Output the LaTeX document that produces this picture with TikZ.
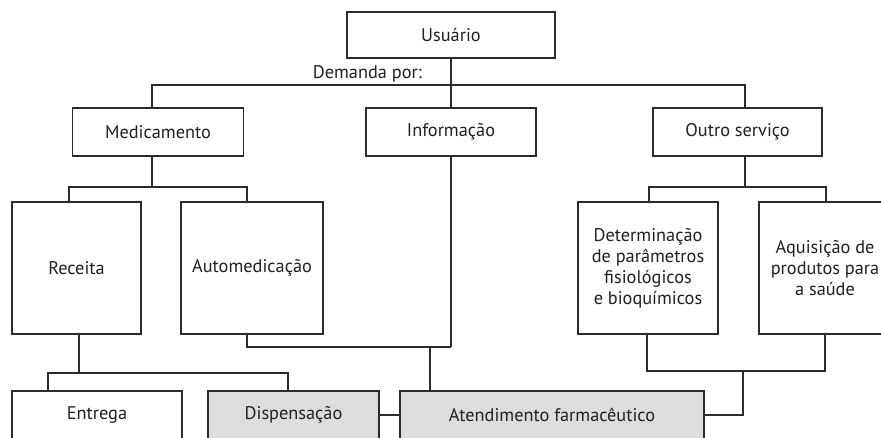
\documentclass[tikz,border=0pt]{standalone}
\usepackage{fontspec}
\setmainfont{PT Sans}
\usetikzlibrary{calc}
\definecolor{ln}{HTML}{2B2B2B}
\definecolor{tx}{HTML}{231F20}
\definecolor{gf}{HTML}{DCDDDE}
\begin{document}
\begin{tikzpicture}[x=1pt,y=-1pt,
  lbl/.style={font=\fontsize{18.3}{21}\selectfont, text=tx},
  box/.style={draw=ln, line width=1.3pt, inner sep=0pt, align=center, lbl},
  gbox/.style={box, fill=gf},
  conn/.style={draw=ln, line width=1.3pt}]
\clip (0,0) rectangle (881,437);
\node[box, minimum width=208pt, minimum height=46pt] (usr) at (451,35) {Usuário};
\node[box, minimum width=171pt, minimum height=48pt] (med) at (158,132) {Medicamento};
\node[box, minimum width=170pt, minimum height=48pt] (inf) at (451,132) {Informação};
\node[box, minimum width=169pt, minimum height=48pt] (out) at (737.5,132) {Outro serviço};
\node[box, minimum width=129pt, minimum height=132pt] (rec) at (76.5,268) {Receita};
\node[box, minimum width=142pt, minimum height=132pt] (aut) at (252,268) {Automedicação};
\node[box, minimum width=140pt, minimum height=132pt] (det) at (648,268) {Determinação\\de parâmetros\\fisiológicos\\e bioquímicos};
\node[box, minimum width=132pt, minimum height=132pt] (aqu) at (825,268) {Aquisição de\\produtos para\\a saúde};
\node[box, minimum width=170pt, minimum height=48pt] (ent) at (97,415) {Entrega};
\node[gbox, minimum width=171pt, minimum height=48pt] (dis) at (293.5,415) {Dispensação};
\node[gbox, minimum width=304pt, minimum height=48pt] (ate) at (552,415) {Atendimento farmacêutico};
\node[lbl, anchor=base east, inner sep=0pt] (dem) at (422,78) {Demanda por:};
\coordinate (dj) at (451,85);
\coordinate (m2) at (152,187);
\coordinate (o2) at (745,187);
\coordinate (b1) at (451,347);
\coordinate (b2) at (430,347);
\coordinate (r2) at (79,373);
\coordinate (d2) at (743,371);
\draw[conn] (usr.south) -- (inf.north);
\draw[conn] ([xshift=-6pt]med.north) |- (dj) -| ([xshift=7.5pt]out.north);
\draw[conn] ([xshift=-6pt]med.south) -- (m2);
\draw[conn] ([xshift=-7.5pt]rec.north) |- (m2) -| ([xshift=-5pt]aut.north);
\draw[conn] ([xshift=7.5pt]out.south) -- (o2);
\draw[conn] ([xshift=1pt]det.north) |- (o2) -| ([xshift=1pt]aqu.north);
\draw[conn] ([xshift=-5pt]aut.south) |- (b1);
\draw[conn] (inf.south) -- (b1);
\draw[conn] (b2) -- (b2 |- ate.north);
\draw[conn] ([xshift=2.5pt]rec.south) -- (r2);
\draw[conn] ([xshift=-49pt]ent.north) |- (r2) -| ([xshift=-5.5pt]dis.north);
\draw[conn] (dis.east) -- (ate.west);
\draw[conn] ([xshift=-1pt]det.south) |- (d2) -| (aqu.south);
\draw[conn] (d2) |- (ate.east);
\end{tikzpicture}
\end{document}
